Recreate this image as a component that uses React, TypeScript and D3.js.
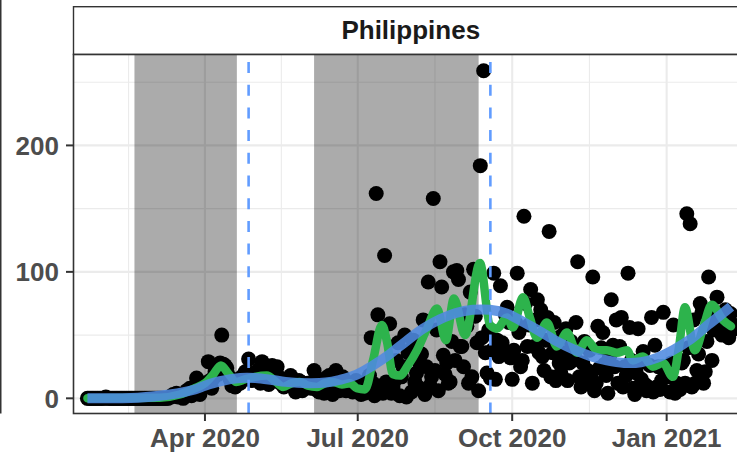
import React from 'react';
import * as d3 from 'd3';

const W = 737;
const H = 453;
const DAY = 86400000;
const seriesStart = Date.UTC(2020, 0, 22);

const facetTitle = 'Philippines';

// daily deaths from 2020-01-22
const janFeb2020 = [0,0,0,0,0,0,0,0,0,0, 0,1,0,0,0,0,0,0,0,0,0,0,0,0,0,0,0,0,0,0,0,0,0,0,0,0,0,0,0];
const mar2020 = [0,0,0,0,0,0,0,0,0,0,1,1,3,2,4,1,2,3,0,2,6,6,8,2,3,5,16,10,3,10,12];
const apr2020 = [12,10,29,14,8,16,21,26,19,28,50,27,26,24,18,15,10,12,9,14,15,12,17,18,21,16,31,17,14,20];
const may2020 = [18,21,23,12,29,25,16,24,11,13,26,18,20,25,17,12,13,9,10,15,11,18,15,8,5,7,14,13,6,12,10];
const jun2020 = [12,9,8,13,22,7,11,5,7,13,4,16,7,18,10,3,9,22,14,6,12,17,8,6,9,10,6,5,13,14];
const jul2020 = [5,8,3,10,4,9,6,18,48,12,2,162,66,6,10,4,113,13,7,59,4,9,14,30,44,2,17,25,50,1,36];
const aug2020 = [38,5,46,13,20,9,28,35,62,3,25,92,10,17,158,22,54,6,108,88,34,19,28,12,13,45,100,30,101,94,41];
const sep2020 = [41,25,66,57,12,84,17,102,65,44,6,184,48,259,36,20,54,16,38,99,15,46,33,89,44,38,66,72,60,32];
const oct2020 = [15,38,60,99,52,25,30,144,75,41,58,86,12,41,62,78,36,70,33,22,46,64,132,17,36,60,14,48,28,20,50];
const nov2020 = [36,55,14,28,45,30,33,60,108,17,9,28,45,12,22,38,17,96,6,12,57,24,40,52,27,18,4,33,78,42];
const dec2020 = [25,62,12,41,64,9,25,18,99,56,30,8,3,20,55,28,15,37,11,6,9,26,64,5,42,9,25,7,14,68,25];
const jan2021 = [18,17,5,28,58,4,12,9,7,28,30,12,146,40,138,9,62,12,22,35,75,68,12,21,45,96,60,30,54,66,80];
const feb2021 = [58,62,50,67,70,55,48,67,54,58];

const dailyDeaths = [
  ...janFeb2020, ...mar2020, ...apr2020, ...may2020, ...jun2020, ...jul2020,
  ...aug2020, ...sep2020, ...oct2020, ...nov2020, ...dec2020, ...jan2021, ...feb2021,
];

// green rolling line (day offset from 2020-01-22, value)
const greenDay = [0,43,55,64,70,75,79.5,83.7,88.5,93.8,99.8,106.9,112.3,116.5,121.8,126.6,131.3,136.7,141.5,146.2,151.6,156.4,160.5,165.3,170.1,175.4,178.4,182,186.1,190.9,196.3,202.2,208.2,213.5,218.3,224.9,233.8,239.7,243.9,249.9,253.4,259.4,263.5,267.7,273.7,279.6,285.6,291.6,297.5,303.5,309.4,315.4,321.3,324.9,330.9,336.8,342.8,348.7,352.3,355.9,361.8,366.6,371.9,378.5,383.3];
const greenVal = [0,0.5,3,8,12,19,26,20,13,15,17,18,13,9,12,13,10,9,12,13,11,12,8,7,30,58,45,19,18,26,38,55,71,46,79,50,107,58,55,64,56,80,64,48,60,41,52,36,46,38,38,36,38,30,33,25,28,17,40,72,38,55,74,62,57];

// blue smooth trend
const smoothDay = [0,30,49,64,70,79,91,100,110,118,132,142,150,160,170,179.6,189.7,199.8,210,219.5,229.6,239.7,249.9,260,269.5,279.6,289.8,299.3,309.4,319.6,329.7,339.2,349.3,359.5,369.6,379.1,383.3];
const smoothVal = [0,0.5,3,7,10,13.5,16,16,14.5,13,12,12.5,14.5,18.5,26,34.5,45,55,62.5,67.5,70,70,67,60,53,45,38.5,33.5,30,28,28.5,32,38.5,47,58,68,72.5];

const shadeStart = ['2020-02-19', '2020-06-05'];
const shadeEnd = ['2020-04-20', '2020-09-11'];
const dashedDates = ['2020-04-27', '2020-09-18'];

const xTickDates = ['2020-04-01', '2020-07-01', '2020-10-01', '2021-01-01'];
const xTickLabels = ['Apr 2020', 'Jul 2020', 'Oct 2020', 'Jan 2021'];
const xBreakDatesExt = ['2020-01-01', '2020-04-01', '2020-07-01', '2020-10-01', '2021-01-01', '2021-04-01'];
const yTicks = [0, 100, 200];
const yMinorTicks = [50, 150, 250];

const d = (s: string) => new Date(s + 'T00:00:00Z');
const dayDate = (i: number) => new Date(seriesStart + i * DAY);

export default function App() {
  const panelL = 73.5;
  const panelT = 55;
  const panelB = 413.5;
  const panelR = 748;
  const apr1 = Date.UTC(2020, 3, 1);

  const x = d3.scaleUtc()
    .domain([new Date(apr1 - 78.3 * DAY), new Date(apr1 + 316.9 * DAY)])
    .range([panelL, 737]);
  const y = d3.scaleLinear().domain([-12.0, 271.5]).range([panelB, panelT]);

  const xMinor: Date[] = [];
  for (let k = 0; k < xBreakDatesExt.length - 1; k++) {
    const a = d(xBreakDatesExt[k]).getTime();
    const b = d(xBreakDatesExt[k + 1]).getTime();
    xMinor.push(new Date((a + b) / 2));
  }

  const greenLine = d3.line<number>()
    .x((_, i) => x(dayDate(greenDay[i])))
    .y((v) => y(v))
    .curve(d3.curveMonotoneX);
  const smoothLine = d3.line<number>()
    .x((_, i) => x(dayDate(smoothDay[i])))
    .y((v) => y(v))
    .curve(d3.curveCatmullRom);

  const grid = '#ebebeb';
  const dark = '#333333';
  const font = '"Liberation Sans", Arial, Helvetica, sans-serif';

  return (
    <svg width={W} height={H} style={{ position: 'absolute', left: 0, top: 0, display: 'block' }}
      xmlns="http://www.w3.org/2000/svg">
      <defs>
        <clipPath id="panelClip">
          <rect x={panelL} y={panelT} width={panelR - panelL} height={panelB - panelT} />
        </clipPath>
      </defs>
      <rect x={0} y={0} width={W} height={H} fill="#ffffff" />
      {/* neighbouring panel edge */}
      <line x1={0.75} x2={0.75} y1={0} y2={panelB} stroke={dark} strokeWidth={1.5} />

      {/* strip */}
      <rect x={panelL} y={6.7} width={panelR - panelL + 10} height={54.5 - 6.7} fill="#ffffff" stroke={dark} strokeWidth={1.4} />
      <text x={(panelL + panelR) / 2} y={39.3} textAnchor="middle" fontFamily={font} fontWeight="bold"
        fontSize={26} fill="#1a1a1a">{facetTitle}</text>

      {/* panel */}
      <rect x={panelL} y={panelT} width={panelR - panelL} height={panelB - panelT} fill="#ffffff" />
      <g clipPath="url(#panelClip)">
        {yMinorTicks.map((t) => (
          <line key={'ym' + t} x1={panelL} x2={panelR} y1={y(t)} y2={y(t)} stroke={grid} strokeWidth={1.1} />
        ))}
        {xMinor.map((t, i) => (
          <line key={'xm' + i} x1={x(t)} x2={x(t)} y1={panelT} y2={panelB} stroke={grid} strokeWidth={1.1} />
        ))}
        {yTicks.map((t) => (
          <line key={'yM' + t} x1={panelL} x2={panelR} y1={y(t)} y2={y(t)} stroke={grid} strokeWidth={2.1} />
        ))}
        {xTickDates.map((t) => (
          <line key={'xM' + t} x1={x(d(t))} x2={x(d(t))} y1={panelT} y2={panelB} stroke={grid} strokeWidth={2.1} />
        ))}

        {shadeStart.map((s, i) => (
          <rect key={'sh' + i} x={x(d(s))} y={panelT} width={x(d(shadeEnd[i])) - x(d(s))}
            height={panelB - panelT} fill="#000000" fillOpacity={0.33} />
        ))}

        {dailyDeaths.map((v, i) => (
          <circle key={'p' + i} cx={x(dayDate(i))} cy={y(v)} r={7.5} fill="#000000" />
        ))}

        <path d={greenLine(greenVal) || ''} fill="none" stroke="#2db34c" strokeWidth={8.5}
          strokeLinejoin="round" strokeLinecap="round" />
        <path d={smoothLine(smoothVal) || ''} fill="none" stroke="#4f8ae0" strokeOpacity={0.88} strokeWidth={10}
          strokeLinejoin="round" />

        {dashedDates.map((s) => (
          <line key={'dl' + s} x1={x(d(s))} x2={x(d(s))} y1={panelB} y2={panelT} stroke="#619CFF"
            strokeWidth={2.6} strokeDasharray="11 11.7" />
        ))}
      </g>

      {/* panel border */}
      <rect x={panelL} y={panelT - 0.5} width={panelR - panelL + 10} height={panelB - panelT + 0.5} fill="none"
        stroke={dark} strokeWidth={1.6} />

      {/* y axis */}
      {yTicks.map((t) => (
        <g key={'yt' + t}>
          <line x1={66} x2={panelL} y1={y(t)} y2={y(t)} stroke={dark} strokeWidth={2} />
          <text x={59} y={y(t)} dy="0.36em" textAnchor="end" fontFamily={font} fontWeight="bold"
            fontSize={26} fill="#4d4d4d">{t}</text>
        </g>
      ))}
      {/* x axis */}
      {xTickDates.map((t, i) => (
        <g key={'xt' + t}>
          <line x1={x(d(t))} x2={x(d(t))} y1={panelB} y2={panelB + 7.5} stroke={dark} strokeWidth={2} />
          <text x={x(d(t))} y={446.6} textAnchor="middle" fontFamily={font} fontWeight="bold"
            fontSize={26} fill="#4d4d4d">{xTickLabels[i]}</text>
        </g>
      ))}
    </svg>
  );
}
